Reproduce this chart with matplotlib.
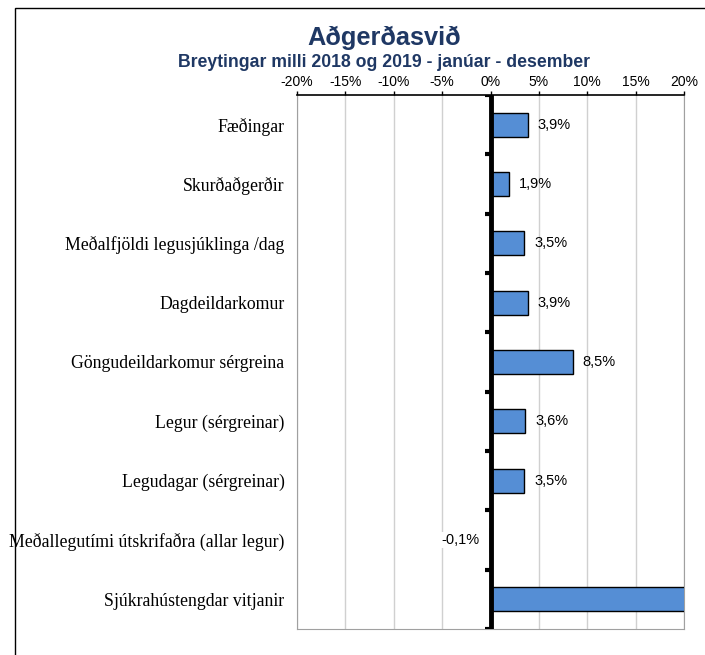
import numpy as np
import matplotlib
matplotlib.use('Agg')
import matplotlib.pyplot as plt
from matplotlib.patches import Rectangle

categories = ['Fæðingar', 'Skurðaðgerðir', 'Meðalfjöldi legusjúklinga /dag', 'Dagdeildarkomur',
              'Göngudeildarkomur sérgreina', 'Legur (sérgreinar)', 'Legudagar (sérgreinar)',
              'Meðallegutími útskrifaðra (allar legur)', 'Sjúkrahústengdar vitjanir']
values = [3.9, 1.9, 3.5, 3.9, 8.5, 3.6, 3.5, -0.1, 30.0]
labels = ['3,9%', '1,9%', '3,5%', '3,9%', '8,5%', '3,6%', '3,5%', '-0,1%', '']
xticks = [-20, -15, -10, -5, 0, 5, 10, 15, 20]

navy = '#1F3864'
bar_color = '#558ED5'

fig = plt.figure(figsize=(7.05, 6.55), dpi=100)
ax = fig.add_axes([297 / 705, 1 - 629 / 655, 387 / 705, 534 / 655])

y = np.arange(len(categories))
ax.barh(y, values, height=0.4, color=bar_color, edgecolor='black', linewidth=1.0, zorder=3)

ax.set_xlim(-20, 20)
ax.set_ylim(len(categories) - 0.5, -0.5)

ax.set_xticks(xticks)
ax.set_xticklabels([f'{t}%' for t in xticks], family='Liberation Sans', fontsize=10)
ax.xaxis.tick_top()
ax.tick_params(axis='x', direction='out', length=3, width=1, pad=1.5)
ax.grid(axis='x', color='#D0D0D0', linewidth=1, zorder=0)

ax.set_yticks(y)
ax.set_yticklabels(categories, family='Liberation Serif', fontsize=12.8)
ax.tick_params(axis='y', length=0, pad=9)

for s in ['left', 'right', 'bottom']:
    ax.spines[s].set_color('#A0A0A0')
ax.spines['top'].set_color('black')
ax.spines['top'].set_linewidth(1.2)

# thick zero axis with category separator ticks
ax.axvline(0, color='black', linewidth=3.5, zorder=4)
for b in np.arange(-0.5, len(categories), 1.0):
    ax.plot([-0.6, 0], [b, b], color='black', linewidth=3, zorder=4, solid_capstyle='butt')

for yi, v, lab in zip(y, values, labels):
    if not lab:
        continue
    if v >= 0:
        ax.annotate(lab, (v, yi), xytext=(7, 0), textcoords='offset points',
                    ha='left', va='center', family='Liberation Sans', fontsize=10.5, zorder=5)
    else:
        ax.annotate(lab, (0, yi), xytext=(-8, 0), textcoords='offset points',
                    ha='right', va='center', family='Liberation Sans', fontsize=10.5, zorder=5,
                    bbox=dict(facecolor='white', edgecolor='none', pad=1))

fig.text(384 / 705, 1 - 45 / 655, 'Aðgerðasvið', ha='center', va='baseline',
         family='Liberation Sans', fontsize=18.3, fontweight='bold', color=navy)
fig.text(384 / 705, 1 - 67 / 655, 'Breytingar milli 2018 og 2019 - janúar - desember', ha='center',
         va='baseline', family='Liberation Sans', fontsize=12.7, fontweight='bold', color=navy)

# outer frame
fig.add_artist(Rectangle((15 / 705, -0.1), 1.2, 1 - 8 / 655 + 0.1, transform=fig.transFigure,
                         fill=False, edgecolor='black', linewidth=1))

fig.savefig('out.png', dpi=100)
